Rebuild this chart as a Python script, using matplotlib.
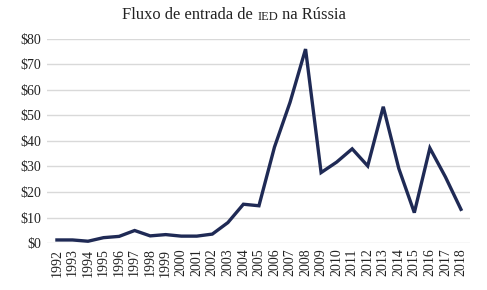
import matplotlib.pyplot as plt
import numpy as np

# Données : flux d'IED en Russie (milliards USD)
annees = list(range(1992, 2019))
valeurs = [1.2, 1.2, 0.7, 2.1, 2.6, 4.9, 2.8, 3.3, 2.7, 2.7, 3.5, 8.0, 15.2,
           14.6, 37.6, 55.1, 76.0, 27.6, 31.7, 36.9, 30.2, 53.4, 29.2, 11.9,
           37.2, 25.9, 13.2]
yticks = [0, 10, 20, 30, 40, 50, 60, 70, 80]
ylabels = ['$' + str(v) for v in yticks]

plt.rcParams['font.family'] = ['Liberation Serif', 'DejaVu Serif']

fig = plt.figure(figsize=(4.87, 2.90), dpi=100)
ax = fig.add_axes([0.0965, 0.162, 0.8685, 0.704])

ax.plot(annees, valeurs, color='#1f2a55', linewidth=2.4, solid_joinstyle='miter')

ax.set_ylim(0, 80)
ax.set_xlim(1991.36, 2018.58)
ax.set_yticks(yticks)
ax.set_yticklabels(ylabels, fontsize=10, color='#222222')
ax.set_xticks(annees)
ax.set_xticklabels([str(a) for a in annees], rotation=90, fontsize=10, color='#222222')
ax.tick_params(length=0, pad=4)
ax.yaxis.grid(True, color='#d9d9d9', linewidth=1)
ax.set_axisbelow(True)
for s in ax.spines.values():
    s.set_visible(False)

# Titre avec petites capitales pour « IED »
t1 = fig.text(0.251, 0.935, 'Fluxo de entrada de ', fontsize=11.9, color='#222222',
              va='baseline', ha='left')
t2 = ax.annotate('IED', xy=(1, 0), xycoords=t1, fontsize=9, color='#222222',
                 va='bottom', ha='left', annotation_clip=False)
t3 = ax.annotate(' na Rússia', xy=(1, 0), xycoords=t2, fontsize=11.9, color='#222222',
                 va='bottom', ha='left', annotation_clip=False)

fig.savefig('out.png', dpi=100)
